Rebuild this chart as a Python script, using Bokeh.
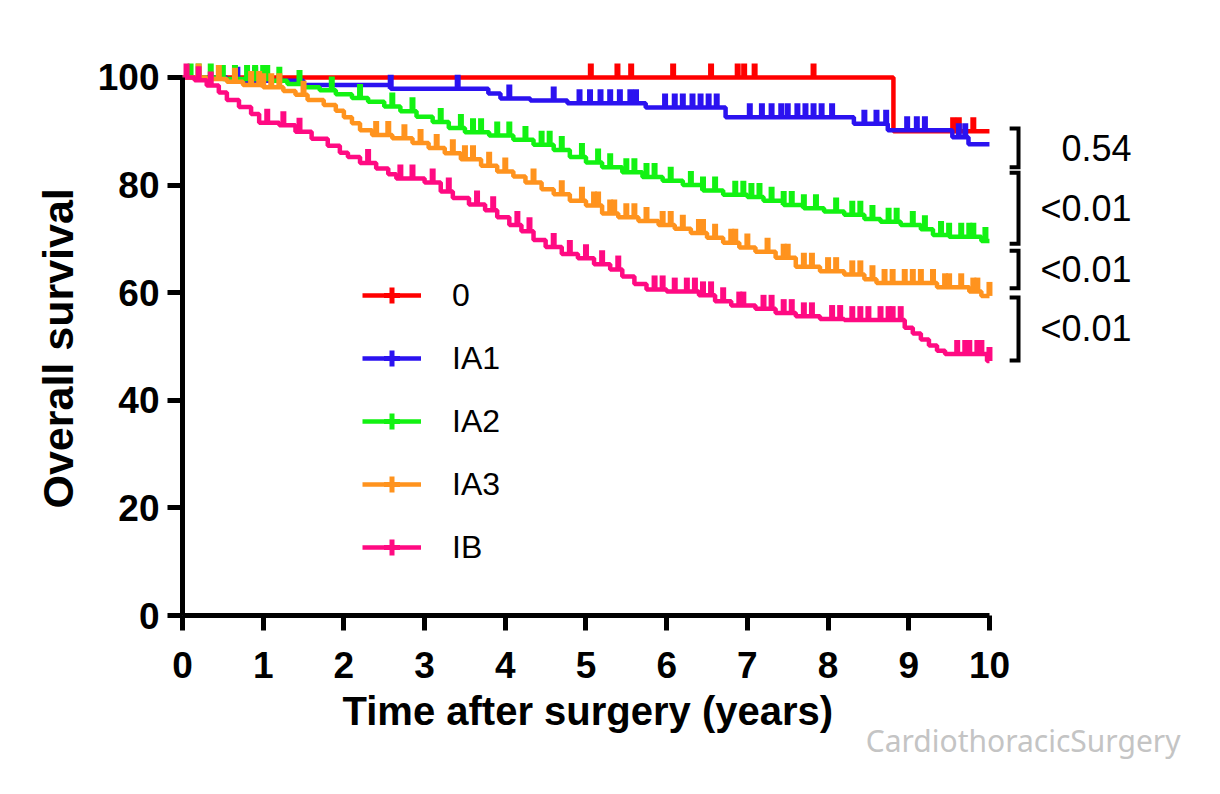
import numpy as np
from bokeh.plotting import figure
from bokeh.models import Range1d, FixedTicker, Title, Legend, LegendItem
from bokeh.core.properties import value
from bokeh.embed import file_html
from bokeh.resources import INLINE

# ---------------- data ----------------
group_names = ["0", "IA1", "IA2", "IA3", "IB"]
group_colors = ["#FF0000", "#2B12F0", "#12F212", "#FF931E", "#FF0A82"]

t_0 = [0, 8.81, 10]
s_0 = [100, 90.0, 90.0]
c_0 = [5.06, 5.39, 5.56, 6.08, 6.55, 6.88, 6.96, 7.09, 7.82, 9.55, 9.62, 9.8]

t_ia1 = [0, 0.55, 1.5, 2.58, 3.79, 3.94, 4.31, 4.77, 5.74, 6.73, 8.32, 8.74, 9.54, 9.74, 10]
s_ia1 = [100, 99.4, 98.6, 97.9, 97.0, 96.1, 95.7, 95.2, 94.4, 92.6, 91.4, 90.2, 88.9, 87.6, 87.6]
c_ia1 = [0.68, 0.9, 2.58, 3.41, 4.05, 4.6, 4.92, 5.05, 5.18, 5.3, 5.42, 5.55, 5.62, 5.98,
         6.1, 6.2, 6.32, 6.42, 6.52, 6.62, 7.03, 7.18, 7.3, 7.42, 7.5, 7.62, 7.72, 7.82,
         7.92, 8.05, 8.45, 8.6, 8.72, 8.98, 9.1, 9.2, 9.62, 9.7]

t_ia2 = [0, 0.5, 1.1, 1.3, 1.5, 1.7, 1.9, 2.1, 2.3, 2.5, 2.7, 2.9, 3.1, 3.3, 3.5, 3.8, 4.1,
         4.35, 4.6, 4.8, 5.0, 5.2, 5.45, 5.7, 5.95, 6.2, 6.45, 6.7, 7.0, 7.2, 7.45, 7.7,
         7.95, 8.2, 8.45, 8.65, 8.9, 9.15, 9.3, 9.5, 9.9, 10]
s_ia2 = [100, 99.7, 99.4, 98.8, 98.2, 97.6, 96.9, 96.2, 95.5, 94.6, 93.7, 92.7, 91.7, 90.6,
         89.8, 89.2, 88.4, 87.5, 86.5, 85.2, 84.2, 83.3, 82.4, 81.5, 80.8, 80.0, 79.0, 78.2,
         77.8, 77.1, 76.3, 75.7, 75.1, 74.5, 73.7, 73.2, 72.6, 71.8, 70.7, 70.4, 69.6, 69.6]
c_ia2 = [0.1, 0.2, 0.35, 0.5, 0.65, 0.8, 0.9, 1.0, 1.05, 1.2, 1.45, 1.85, 2.2, 2.6, 2.85,
         3.2, 3.45, 3.6, 3.7, 3.9, 4.05, 4.25, 4.45, 4.55, 4.7, 4.95, 5.15, 5.3, 5.5, 5.6,
         5.75, 5.85, 6.05, 6.3, 6.45, 6.6, 6.85, 6.95, 7.05, 7.15, 7.3, 7.45, 7.55, 7.7,
         7.85, 8.1, 8.3, 8.4, 8.55, 8.75, 8.85, 9.05, 9.2, 9.4, 9.5, 9.65, 9.75, 9.8, 9.95]

t_ia3 = [0, 0.3, 0.55, 0.75, 1.0, 1.25, 1.4, 1.55, 1.75, 1.9, 2.0, 2.1, 2.2, 2.35, 2.6, 2.85,
         3.05, 3.25, 3.45, 3.7, 3.9, 4.1, 4.25, 4.45, 4.6, 4.8, 5.0, 5.2, 5.4, 5.65, 5.9,
         6.1, 6.3, 6.5, 6.7, 6.9, 7.1, 7.35, 7.6, 7.9, 8.2, 8.45, 8.6, 9.35, 9.75, 9.9, 10]
s_ia3 = [100, 99.7, 99.2, 98.6, 98.2, 97.5, 96.8, 95.8, 94.9, 93.8, 92.6, 91.5, 90.2, 89.3,
         88.7, 87.8, 86.9, 85.9, 84.8, 83.6, 82.5, 81.6, 80.5, 79.2, 78.3, 77.1, 76.2, 74.7,
         74.0, 73.3, 72.6, 71.9, 71.1, 70.2, 69.3, 68.4, 67.6, 66.5, 64.8, 64.0, 63.4, 62.5,
         61.8, 61.0, 60.2, 59.4, 59.4]
c_ia3 = [0.2, 0.45, 0.65, 0.85, 0.95, 1.0, 1.1, 1.2, 1.5, 2.4, 2.55, 2.75, 2.95, 3.15, 3.35,
         3.5, 3.6, 3.8, 4.0, 4.35, 4.7, 4.95, 5.1, 5.15, 5.3, 5.35, 5.5, 5.6, 5.75, 5.95,
         6.05, 6.2, 6.4, 6.45, 6.6, 6.8, 6.85, 7.0, 7.25, 7.45, 7.5, 7.7, 7.8, 8.0, 8.1,
         8.3, 8.4, 8.55, 8.7, 8.8, 8.95, 9.05, 9.15, 9.3, 9.45, 9.5, 9.65, 9.8, 9.85, 10.0]

t_ib = [0, 0.15, 0.3, 0.45, 0.55, 0.7, 0.85, 0.95, 1.2, 1.4, 1.6, 1.8, 1.95, 2.05, 2.2, 2.4,
        2.55, 2.65, 3.0, 3.2, 3.35, 3.55, 3.75, 3.9, 4.05, 4.2, 4.35, 4.5, 4.7, 4.9, 5.1,
        5.3, 5.45, 5.6, 5.75, 6.0, 6.4, 6.6, 6.8, 7.1, 7.35, 7.6, 7.9, 8.2, 8.95, 9.05,
        9.15, 9.25, 9.35, 9.45, 9.97, 10]
s_ib = [100, 99.5, 98.5, 97.2, 95.8, 94.5, 93.2, 91.6, 91.1, 89.9, 88.6, 87.3, 86.0, 85.2,
        84.1, 83.1, 82.0, 81.2, 80.5, 78.8, 77.6, 76.4, 75.3, 74.0, 72.6, 71.4, 69.8, 68.5,
        67.2, 66.4, 65.3, 64.3, 63.0, 61.6, 60.6, 60.2, 59.5, 58.4, 57.6, 57.0, 56.2, 55.6,
        55.1, 54.9, 53.5, 52.4, 51.3, 50.2, 49.2, 48.6, 47.3, 47.3]
c_ib = [0.05, 0.2, 0.35, 1.05, 1.25, 1.45, 2.3, 2.7, 2.85, 3.1, 3.3, 3.65, 3.85, 4.15, 4.3,
        4.6, 4.8, 5.0, 5.2, 5.4, 5.85, 5.95, 6.1, 6.25, 6.35, 6.45, 6.55, 6.7, 6.9, 6.95,
        7.2, 7.3, 7.45, 7.55, 7.7, 7.8, 8.05, 8.15, 8.3, 8.4, 8.5, 8.65, 8.75, 8.8, 8.9,
        9.6, 9.7, 9.75, 9.85, 9.9, 10.0]

x_ticks = [0, 1, 2, 3, 4, 5, 6, 7, 8, 9, 10]
y_ticks = [0, 20, 40, 60, 80, 100]

# p-value brackets (survival units) and labels
bracket_top = [90.5, 82.3, 67.8, 59.1]
bracket_bottom = [83.3, 69.1, 60.8, 47.4]
p_labels = ["0.54", "<0.01", "<0.01", "<0.01"]

x_title = "Time after surgery (years)"
y_title = "Overall survival"
watermark = "CardiothoracicSurgery"

# ---------------- figure ----------------
FONT = "Liberation Sans"
p = figure(width=1212, height=786, x_range=Range1d(0, 12.64), y_range=Range1d(0, 109.1),
           min_border_left=182, min_border_right=10, min_border_top=28, min_border_bottom=171,
           output_backend="svg", toolbar_location=None)
p.grid.visible = False
p.outline_line_color = None
p.background_fill_color = "white"

for ax, ticks in ((p.xaxis[0], x_ticks), (p.yaxis[0], y_ticks)):
    ax.ticker = FixedTicker(ticks=ticks)
    ax.bounds = (ticks[0], ticks[-1])
    ax.axis_line_width = 5
    ax.axis_line_color = "black"
    ax.major_tick_line_width = 5
    ax.major_tick_line_color = "black"
    ax.major_tick_in = 0
    ax.major_tick_out = 15
    ax.minor_tick_line_color = None
    ax.major_label_text_font = FONT
    ax.major_label_text_font_style = "bold"
    ax.major_label_text_font_size = "37px"
    ax.major_label_text_color = "black"
p.xaxis.major_label_standoff = 21
p.yaxis.major_label_standoff = 8

tick_offset = 1.3  # censor tick raised above the line (style)
series = [(t_0, s_0, c_0), (t_ia1, s_ia1, c_ia1), (t_ia2, s_ia2, c_ia2),
          (t_ia3, s_ia3, c_ia3), (t_ib, s_ib, c_ib)]
items = []
for name, col, (t, s, c) in zip(group_names, group_colors, series):
    ln = p.step(t, s, mode="after", line_color=col, line_width=4.5)
    ta = np.array(t)
    sa = np.array(s)
    idx = np.searchsorted(ta, np.array(c), side="right") - 1
    idx = np.clip(idx, 0, len(sa) - 1)
    cy = sa[idx] + tick_offset
    p.scatter(c, cy, marker="dash", angle=np.pi / 2, size=14, line_color=col,
              line_width=6, fill_color=col)
    # legend-only symbol (a NaN point, nothing drawn in the plot)
    lg = p.scatter([np.nan], [np.nan], marker="cross", size=14, line_color=col, line_width=5)
    items.append(LegendItem(label=name, renderers=[ln, lg]))

legend = Legend(items=items, location=(180, 48), glyph_width=59, glyph_height=40,
                label_height=40, label_standoff=31, spacing=23, padding=0, margin=0,
                border_line_alpha=0, background_fill_alpha=0,
                label_text_font=FONT, label_text_font_size="32px", label_text_color="black")
p.add_layout(legend)

# brackets
vx = 10.36
sx = 10.25
bx = [[sx, vx, vx, sx] for _ in bracket_top]
by = [[a, a, b, b] for a, b in zip(bracket_top, bracket_bottom)]
p.multi_line(bx, by, line_color="black", line_width=4, line_join="miter")
mids = [(a + b) / 2 for a, b in zip(bracket_top, bracket_bottom)]
p.text(x=[11.76] * len(mids), y=mids, text=p_labels, text_align="right",
       text_baseline="middle", text_font=value(FONT), text_font_size="36px", text_color="black")

# axis titles as side-panel titles
p.add_layout(Title(text=x_title, align="left", offset=160, standoff=12, text_font=FONT,
                   text_font_style="bold", text_font_size="40px", text_color="black"), "below")
p.add_layout(Title(text=watermark, align="right", offset=22, standoff=-41, text_font="Noto Sans",
                   text_font_style="normal", text_font_size="30px", text_color="#c4c4c4"), "below")
p.add_layout(Title(text=y_title, align="left", offset=107, standoff=26, text_font=FONT,
                   text_font_style="bold", text_font_size="43px", text_color="black"), "left")

open("out.html", "w").write(file_html(p, INLINE))
